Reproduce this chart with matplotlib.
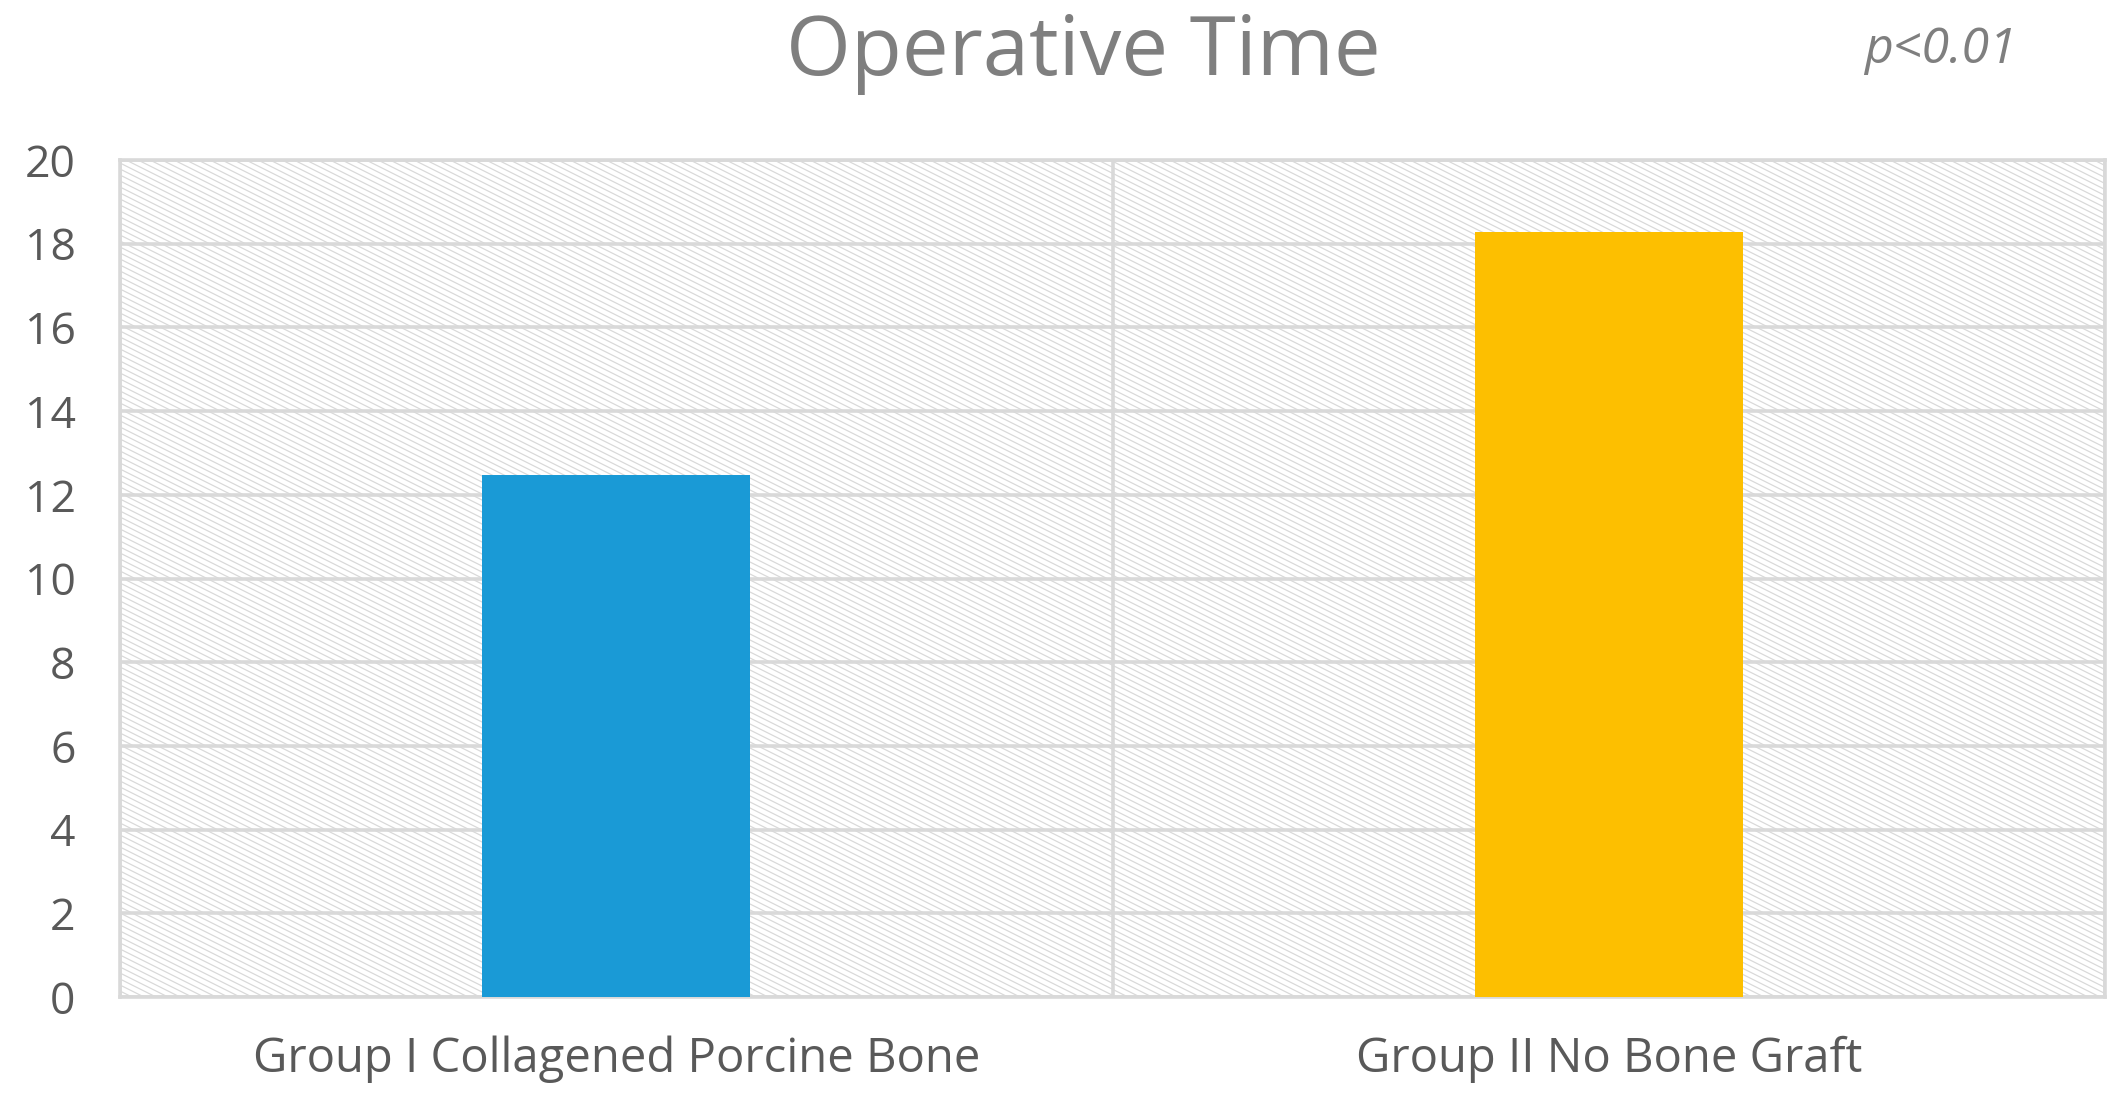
import numpy as np
import matplotlib
matplotlib.use("Agg")
import matplotlib.pyplot as plt
from matplotlib.collections import LineCollection

categories = ["Group I Collagened Porcine Bone", "Group II No Bone Graft"]
values = [12.48, 18.28]
colors = ["#1a9ad6", "#fdbf00"]
yticks = [0, 2, 4, 6, 8, 10, 12, 14, 16, 18, 20]
title = "Operative Time"
pval = "p<0.01"

plt.rcParams['font.family'] = ['Open Sans', 'DejaVu Sans']

W, H = 2128, 1097
fig = plt.figure(figsize=(W / 100, H / 100), dpi=100)
left, right, bottom, top = 120 / W, 2105 / W, 1 - 997 / H, 1 - 160 / H
ax = fig.add_axes([left, bottom, right - left, top - bottom])

# hatched background (decoration)
axw, axh = (right - left) * W, (top - bottom) * H
slope = 0.5
spacing = 12.0
segs = []
x0 = -axh / slope
xs = np.arange(x0, axw + spacing, spacing)
for xp in xs:
    p1 = (xp / axw, 1.0)
    p2 = ((xp + axh / slope) / axw, 0.0)
    segs.append([p1, p2])
lc = LineCollection(segs, colors="#d8d8d8", linewidths=0.85, transform=ax.transAxes, zorder=0.5)
ax.add_collection(lc)

x = np.arange(len(categories))
ax.bar(x, values, width=0.27, color=colors, zorder=3)

ax.set_xlim(-0.5, len(categories) - 0.5)
ax.set_ylim(0, 20)
ax.set_yticks(yticks)
ax.set_yticklabels([str(t) for t in yticks])
ax.set_xticks(x)
ax.set_xticklabels(categories)

grid_c = "#d9d9d9"
ax.yaxis.grid(True, color=grid_c, linewidth=2.6, zorder=1)
ax.set_axisbelow(True)
for xv in np.arange(-0.5, len(categories), 1.0):
    ax.axvline(xv, color=grid_c, linewidth=2.6, zorder=1)
for s in ax.spines.values():
    s.set_color(grid_c)
    s.set_linewidth(2.6)

ax.tick_params(axis='y', length=0, colors="#595959", labelsize=32, pad=32)
ax.tick_params(axis='x', length=0, colors="#595959", labelsize=34, pad=28)

fig.text(1083 / W, 1 - 54 / H, title, ha='center', va='center', fontsize=60, color="#7f7f7f")
fig.text(1940 / W, 1 - 50 / H, pval, ha='center', va='center', fontsize=36, color="#7f7f7f", style='italic')

fig.savefig("out.png", dpi=100)
